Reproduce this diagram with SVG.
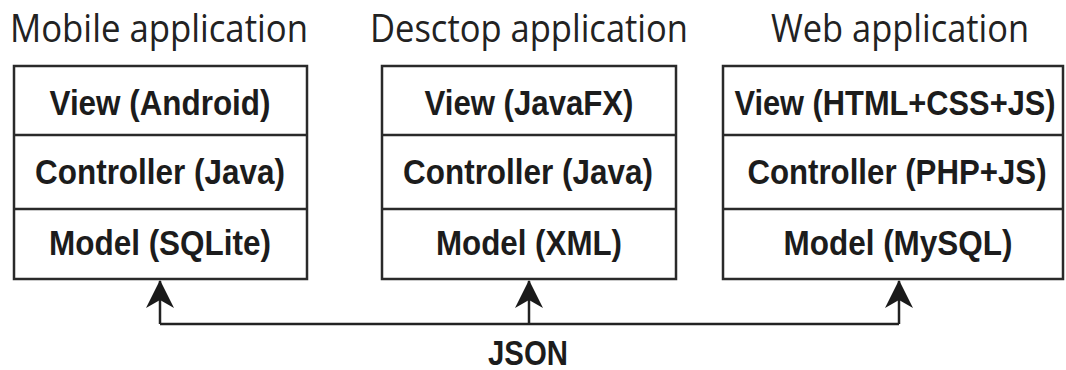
<svg xmlns="http://www.w3.org/2000/svg" width="1066" height="370" viewBox="0 0 1066 370">
<style>
.title{font-family:"Open Sans","Noto Sans","Liberation Sans",sans-serif;font-size:38px;fill:#222;}
.cell{font-family:"Liberation Sans",Arial,sans-serif;font-weight:bold;font-size:35px;fill:#1c1c1c;text-anchor:middle;}
.box{fill:#fff;stroke:#2a2a2a;stroke-width:2.5;}
.div{stroke:#2a2a2a;stroke-width:2.5;}
.conn{fill:none;stroke:#222;stroke-width:2.5;}
</style>
<defs>
<marker id="ah" viewBox="0 0 28 28" refX="27" refY="14" markerWidth="28" markerHeight="28" markerUnits="userSpaceOnUse" orient="auto">
<path d="M0,0 L28,14 L0,28 L8,14 Z" fill="#1a1a1a"/>
</marker>
</defs>
<rect width="1066" height="370" fill="#fff"/>

<g id="mobile">
<text class="title" x="10" y="42" textLength="298" lengthAdjust="spacingAndGlyphs">Mobile application</text>
<rect class="box" x="14" y="66" width="293" height="213"/>
<line class="div" x1="14" y1="135" x2="307" y2="135"/>
<line class="div" x1="14" y1="209" x2="307" y2="209"/>
<text class="cell" x="160" y="115" textLength="221" lengthAdjust="spacingAndGlyphs">View (Android)</text>
<text class="cell" x="160" y="184" textLength="250" lengthAdjust="spacingAndGlyphs">Controller (Java)</text>
<text class="cell" x="160" y="255" textLength="222" lengthAdjust="spacingAndGlyphs">Model (SQLite)</text>
</g>

<g id="desktop">
<text class="title" x="370" y="42" textLength="318" lengthAdjust="spacingAndGlyphs">Desctop application</text>
<rect class="box" x="382" y="66" width="294" height="213"/>
<line class="div" x1="382" y1="135" x2="676" y2="135"/>
<line class="div" x1="382" y1="209" x2="676" y2="209"/>
<text class="cell" x="529" y="115" textLength="209" lengthAdjust="spacingAndGlyphs">View (JavaFX)</text>
<text class="cell" x="528" y="184" textLength="250" lengthAdjust="spacingAndGlyphs">Controller (Java)</text>
<text class="cell" x="529" y="255" textLength="186" lengthAdjust="spacingAndGlyphs">Model (XML)</text>
</g>

<g id="web">
<text class="title" x="771" y="42" textLength="258" lengthAdjust="spacingAndGlyphs">Web application</text>
<rect class="box" x="723" y="66" width="340" height="213"/>
<line class="div" x1="723" y1="135" x2="1063" y2="135"/>
<line class="div" x1="723" y1="209" x2="1063" y2="209"/>
<text class="cell" transform="translate(895,115) scale(0.88,1)">View (HTML+CSS+JS)</text>
<text class="cell" transform="translate(897,184) scale(0.892,1)">Controller (PHP+JS)</text>
<text class="cell" x="898" y="255" textLength="229" lengthAdjust="spacingAndGlyphs">Model (MySQL)</text>
</g>

<g id="connectors">
<path class="conn" d="M160,324 H899"/>
<line class="conn" x1="160" y1="324" x2="160" y2="281" marker-end="url(#ah)"/>
<line class="conn" x1="529" y1="324" x2="529" y2="281" marker-end="url(#ah)"/>
<line class="conn" x1="899" y1="324" x2="899" y2="281" marker-end="url(#ah)"/>
</g>

<g id="json">
<text class="cell" x="528" y="365" textLength="80" lengthAdjust="spacingAndGlyphs">JSON</text>
</g>
</svg>
